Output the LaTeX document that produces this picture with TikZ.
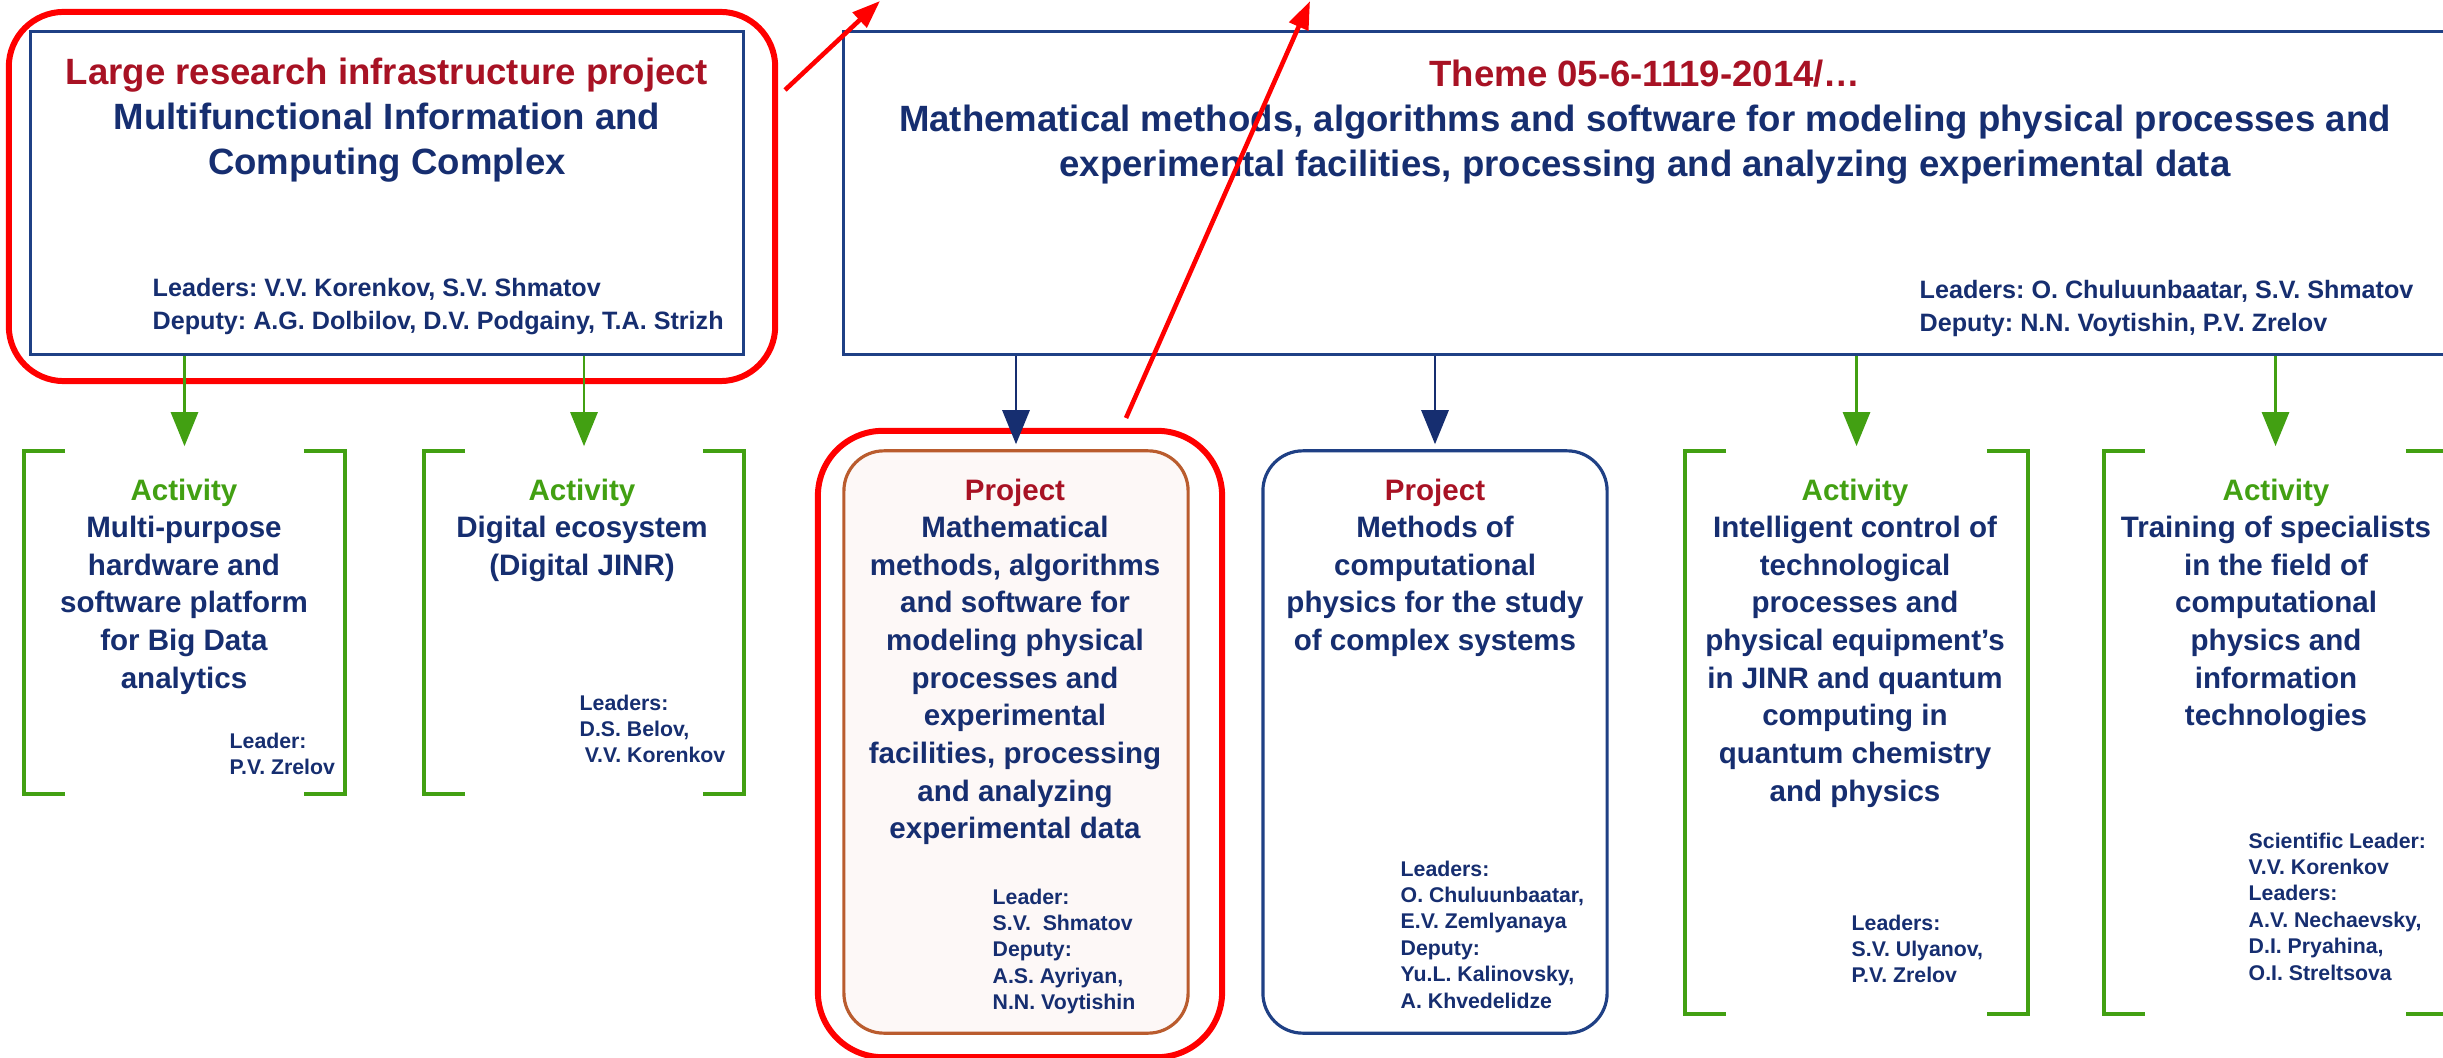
\documentclass[tikz,border=0pt]{standalone}
\usepackage{fontspec}
\setmainfont{Liberation Sans}
\usepackage{tikz}
\usetikzlibrary{arrows.meta}
\usetikzlibrary{positioning}
\definecolor{navy}{RGB}{22,46,112}
\definecolor{headred}{RGB}{168,18,36}
\definecolor{actgreen}{RGB}{66,160,18}
\definecolor{boxblue}{RGB}{31,64,133}
\definecolor{projorange}{RGB}{186,92,46}
\definecolor{projfill}{RGB}{253,248,247}
\definecolor{hired}{RGB}{255,0,0}
\tikzset{
    bluebox/.style={
        draw=boxblue,
        line width=0.9pt,
        inner sep=0pt
    },
    projbox/.style={
        draw=boxblue,
        line width=0.9pt,
        rounded corners=0.4cm,
        inner sep=0pt
    },
    orangebox/.style={
        projbox,
        draw=projorange,
        fill=projfill
    },
    actbox/.style={
        inner sep=0pt
    },
    hilite/.style={
        draw=hired,
        line width=1.7pt,
        inner sep=0pt
    },
    bracket/.style={
        draw=actgreen,
        line width=1.1pt
    },
    headtext/.style={
        font=\fontsize{10.4}{12.9}\selectfont\bfseries,
        text=navy,
        align=center,
        anchor=north,
        inner sep=0pt
    },
    bodytext/.style={
        headtext,
        font=\fontsize{8.4}{10.7}\selectfont\bfseries
    },
    toplead/.style={
        font=\fontsize{7.15}{9.4}\selectfont\bfseries,
        text=navy,
        align=left,
        anchor=north west,
        inner sep=0pt
    },
    leadtext/.style={
        toplead,
        font=\fontsize{6.05}{7.5}\selectfont\bfseries
    },
    greenarrow/.style={
        draw=actgreen,
        line width=0.8pt,
        shorten >=0.05cm,
        -{Triangle[length=0.34cm,width=0.27cm]}
    },
    bluearrow/.style={
        greenarrow,
        draw=navy
    },
    redarrow/.style={
        draw=hired,
        line width=1.3pt,
        -{Triangle[length=0.28cm,width=0.2cm]}
    }
}
\newcommand{\act}{\textcolor{actgreen}{Activity}}
\newcommand{\proj}{\textcolor{headred}{Project}}

\begin{document}
\frenchspacing
\begin{tikzpicture}[x=0.01cm, y=-0.01cm]
\fill[white] (0,0) rectangle (2443,1058);
\useasboundingbox (0,0) rectangle (2443,1058);
\clip (0,0) rectangle (2443,1058);

% 红框
\node[hilite, rounded corners=0.55cm, minimum width=7.66cm, minimum height=3.69cm] (hl1) at (392,196.5) {};
\node[hilite, rounded corners=0.65cm, minimum width=4.04cm, minimum height=6.26cm] (hl2) at (1020,744) {};

% 上层
\node[bluebox, minimum width=7.12cm, minimum height=3.22cm] (micc) at (387,193) {};
\node[bluebox, minimum width=16.03cm, minimum height=3.22cm] (theme) at (1645.5,193) {};

\node[headtext] (micctxt) at (387,57) {\textcolor{headred}{Large research infrastructure project}\\Multifunctional Information and\\Computing Complex};
\node[toplead] (miccled) at (152,278) {Leaders: V.V. Korenkov, S.V. Shmatov\\Deputy: A.G. Dolbilov, D.V. Podgainy, T.A. Strizh};

\node[headtext] (themetxt) at (1645,59) {\textcolor{headred}{Theme 05-6-1119-2014/…}\\Mathematical methods, algorithms and software for modeling physical processes and\\experimental facilities, processing and analyzing experimental data};
\node[toplead] (themeled) at (1919,280) {Leaders: O. Chuluunbaatar, S.V. Shmatov\\Deputy: N.N. Voytishin, P.V. Zrelov};

% 下层
\node[actbox, minimum width=3.19cm, minimum height=3.41cm] (act1) at (184.5,622.5) {};
\node[actbox, minimum width=3.18cm, minimum height=3.41cm] (act2) at (584,622.5) {};
\node[orangebox, minimum width=3.44cm, minimum height=5.82cm] (proj1) at (1016,742) {};
\node[projbox, minimum width=3.44cm, minimum height=5.82cm] (proj2) at (1435,742) {};
\node[actbox, minimum width=3.41cm, minimum height=5.61cm] (act3) at (1856.5,732.5) {};
\node[actbox, minimum width=3.41cm, minimum height=5.61cm] (act4) at (2275.5,732.5) {};

\node[bodytext] (act1txt) at (184,478) {\act\\Multi-purpose\\hardware and\\software platform\\for Big Data\\analytics};
\node[leadtext] (act1led) at (229,732) {Leader:\\P.V. Zrelov};

\node[bodytext] (act2txt) at (582,478) {\act\\Digital ecosystem\\(Digital JINR)};
\node[leadtext] (act2led) at (579,694) {Leaders:\\D.S. Belov,\\\hspace*{1.5pt}V.V. Korenkov};

\node[bodytext] (proj1txt) at (1015,478) {\proj\\Mathematical\\methods, algorithms\\and software for\\modeling physical\\processes and\\experimental\\facilities, processing\\and analyzing\\experimental data};
\node[leadtext] (proj1led) at (992,888) {Leader:\\S.V.\ \ Shmatov\\Deputy:\\A.S. Ayriyan,\\N.N. Voytishin};

\node[bodytext] (proj2txt) at (1435,478) {\proj\\Methods of\\computational\\physics for the study\\of complex systems};
\node[leadtext] (proj2led) at (1400,860) {Leaders:\\O. Chuluunbaatar,\\E.V. Zemlyanaya\\Deputy:\\Yu.L. Kalinovsky,\\A. Khvedelidze};

\node[bodytext] (act3txt) at (1855,478) {\act\\Intelligent control of\\technological\\processes and\\physical equipment’s\\in JINR and quantum\\computing in\\quantum chemistry\\and physics};
\node[leadtext] (act3led) at (1851,914) {Leaders:\\S.V. Ulyanov,\\P.V. Zrelov};

\node[bodytext] (act4txt) at (2276,478) {\act\\Training of specialists\\in the field of\\computational\\physics and\\information\\technologies};
\node[leadtext] (act4led) at (2248,832) {Scientific Leader:\\V.V. Korenkov\\Leaders:\\A.V. Nechaevsky,\\D.I. Pryahina,\\O.I. Streltsova};

% 方括号
\foreach \n in {act1,act2,act3,act4}{
    \draw[bracket] (\n.north west) ++(41,0) -- (\n.north west) -- (\n.south west) -- ++(41,0);
    \draw[bracket] (\n.north east) ++(-41,0) -- (\n.north east) -- (\n.south east) -- ++(-41,0);
}

% 箭头
\draw[greenarrow] (micc.south -| act1.north) -- (act1.north);
\draw[greenarrow] (micc.south -| act2.north) -- (act2.north);
\draw[bluearrow] (theme.south -| proj1.north) -- (proj1.north);
\draw[bluearrow] (theme.south -| proj2.north) -- (proj2.north);
\draw[greenarrow] (theme.south -| act3.north) -- (act3.north);
\draw[greenarrow] (theme.south -| act4.north) -- (act4.north);

% 红色箭头
\coordinate (tail1) at (785,90);
\coordinate (tip1) at (880,1);
\coordinate (tail2) at (1126,418);
\coordinate (tip2) at (1310,1);
\draw[redarrow] (tail1) -- (tip1);
\draw[redarrow] (tail2) -- (tip2);
\end{tikzpicture}
\end{document}
